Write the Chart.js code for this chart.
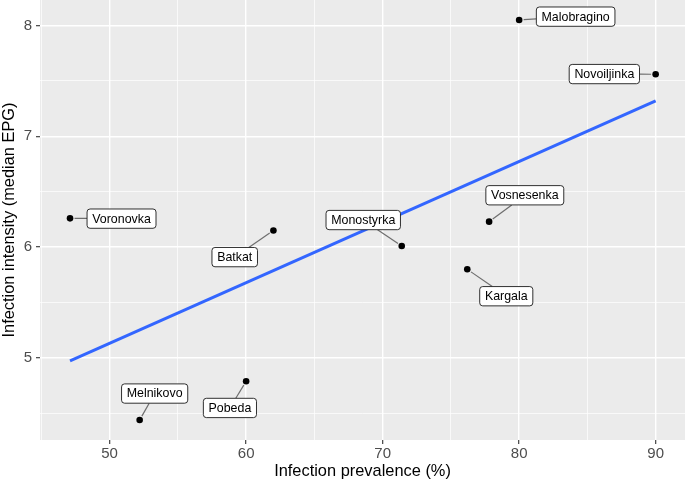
<!DOCTYPE html>
<html><head><meta charset="utf-8">
<script src="https://cdn.jsdelivr.net/npm/chart.js@4/dist/chart.umd.min.js"></script>
<style>html,body{margin:0;padding:0;background:#fff}canvas{display:block}</style>
</head><body>
<canvas id="c" width="685" height="481"></canvas>
<script>
// ---- data ----
const sites = ['Voronovka','Batkat','Monostyrka','Kargala','Vosnesenka','Malobragino','Novoiljinka','Melnikovo','Pobeda'];
const prevalence = [47.1, 62.0, 71.4, 76.2, 77.8, 80.0, 90.0, 52.2, 60.0];
const intensity  = [6.26, 6.15, 6.01, 5.80, 6.23, 8.05, 7.56, 4.44, 4.79];
const fitPrevalence = [47.1, 90.0];
const fitIntensity  = [4.975, 7.32];
const xMajorTicks = [50, 60, 70, 80, 90];
const xMinorTicks = [45, 55, 65, 75, 85];
const yMajorTicks = [5, 6, 7, 8];
const yMinorTicks = [4.5, 5.5, 6.5, 7.5];

// ---- layout-only: label box offsets (px) from each point ----
const labelOffsets = [[51.5,0.3],[-38.7,26.6],[-38.5,-26],[39,26.9],[35.7,-26.4],[56.5,-3.3],[-51.3,-0.2],[15,-26.5],[-16.2,26.7]];

const FONT = '"Liberation Sans", Arial, Helvetica, sans-serif';

const panelBg = {
  id: 'panelBg',
  beforeDraw(chart) {
    const {ctx, chartArea: a} = chart;
    ctx.save();
    ctx.fillStyle = '#EBEBEB';
    ctx.fillRect(a.left, a.top, a.right - a.left, a.bottom - a.top);
    ctx.restore();
  }
};

const repelLabels = {
  id: 'repelLabels',
  afterDatasetsDraw(chart) {
    const ctx = chart.ctx, xs = chart.scales.x, ys = chart.scales.y;
    ctx.save();
    ctx.font = '12.4px ' + FONT;
    sites.forEach((name, i) => {
      const px = xs.getPixelForValue(prevalence[i]);
      const py = ys.getPixelForValue(intensity[i]);
      const cx = px + labelOffsets[i][0], cy = py + labelOffsets[i][1];
      const w = ctx.measureText(name).width + 10.4, h = 19.3;
      const dx = cx - px, dy = cy - py, d = Math.hypot(dx, dy);
      const s = Math.min((w / 2) / Math.max(Math.abs(dx), 1e-9), (h / 2) / Math.max(Math.abs(dy), 1e-9));
      const ex = cx - dx * s, ey = cy - dy * s;
      const sx = px + dx / d * 4.5, sy = py + dy / d * 4.5;
      if (Math.hypot(ex - px, ey - py) > 5) {
        ctx.beginPath();
        ctx.moveTo(sx, sy);
        ctx.lineTo(ex, ey);
        ctx.strokeStyle = '#6e6e6e';
        ctx.lineWidth = 1.2;
        ctx.stroke();
      }
      ctx.beginPath();
      ctx.roundRect(cx - w / 2, cy - h / 2, w, h, 3);
      ctx.fillStyle = '#ffffff';
      ctx.fill();
      ctx.strokeStyle = '#1a1a1a';
      ctx.lineWidth = 0.9;
      ctx.stroke();
      ctx.fillStyle = '#000000';
      ctx.textAlign = 'center';
      ctx.textBaseline = 'middle';
      ctx.fillText(name, cx, cy + 0.5);
    });
    ctx.restore();
  }
};

function zeroPad(scale) {
  scale.paddingTop = 0; scale.paddingBottom = 0; scale.paddingLeft = 0; scale.paddingRight = 0;
}

new Chart(document.getElementById('c'), {
  type: 'scatter',
  data: {
    datasets: [
      {
        data: prevalence.map((v, i) => ({x: v, y: intensity[i]})),
        pointRadius: 3.3,
        pointBackgroundColor: '#000',
        pointBorderWidth: 0,
        pointHoverRadius: 3.3
      },
      {
        data: fitPrevalence.map((v, i) => ({x: v, y: fitIntensity[i]})),
        showLine: true,
        pointRadius: 0,
        borderColor: '#3366FF',
        borderWidth: 3,
        fill: false
      }
    ]
  },
  options: {
    responsive: false,
    animation: false,
    devicePixelRatio: 1,
    layout: {padding: 0, autoPadding: false},
    plugins: {legend: {display: false}, tooltip: {enabled: false}},
    scales: {
      x: {
        type: 'linear',
        min: 44.9, max: 92.15,
        border: {display: false},
        afterBuildTicks(scale) {
          scale.ticks = [...xMinorTicks, ...xMajorTicks].sort((a, b) => a - b).map(v => ({value: v}));
        },
        afterFit(scale) { scale.height = 41; zeroPad(scale); },
        grid: {
          color: '#ffffff',
          lineWidth: c => xMajorTicks.includes(c.tick.value) ? 1.4 : 0.7,
          tickColor: c => xMajorTicks.includes(c.tick.value) ? '#333333' : 'rgba(0,0,0,0)',
          tickWidth: 1.1,
          tickLength: 4
        },
        ticks: {
          autoSkip: false, maxRotation: 0,
          padding: 1,
          color: '#4D4D4D',
          font: {family: FONT, size: 15},
          callback: v => xMajorTicks.includes(v) ? String(v) : ''
        },
        title: {
          display: true, text: 'Infection prevalence (%)',
          color: '#000', font: {family: FONT, size: 16.4},
          padding: {top: 0, bottom: 0}
        }
      },
      y: {
        type: 'linear',
        min: 4.26, max: 8.23,
        border: {display: false},
        afterBuildTicks(scale) {
          scale.ticks = [...yMinorTicks, ...yMajorTicks].sort((a, b) => a - b).map(v => ({value: v}));
        },
        afterFit(scale) { scale.width = 40; zeroPad(scale); },
        grid: {
          color: '#ffffff',
          lineWidth: c => yMajorTicks.includes(c.tick.value) ? 1.4 : 0.7,
          tickColor: c => yMajorTicks.includes(c.tick.value) ? '#333333' : 'rgba(0,0,0,0)',
          tickWidth: 1.1,
          tickLength: 4
        },
        ticks: {
          autoSkip: false,
          padding: 4,
          color: '#4D4D4D',
          font: {family: FONT, size: 15},
          callback: v => yMajorTicks.includes(v) ? String(v) : ''
        },
        title: {
          display: true, text: 'Infection intensity (median EPG)',
          color: '#000', font: {family: FONT, size: 16.4},
          padding: {top: 0, bottom: 0}
        }
      }
    }
  },
  plugins: [panelBg, repelLabels]
});
</script>
</body></html>
